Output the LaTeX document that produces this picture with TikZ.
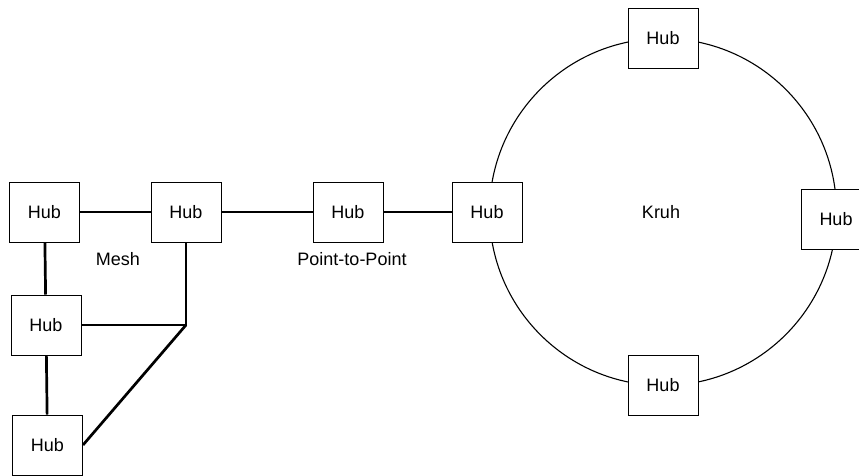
\documentclass[tikz,border=0pt]{standalone}
\usepackage{fontspec}
\setmainfont{Liberation Sans}
\begin{document}
\begin{tikzpicture}[x=1pt,y=-1pt,
  hub/.style={draw, line width=1pt, fill=white, minimum width=70pt, minimum height=60pt, inner sep=0pt},
  link/.style={line width=2.7pt},
  ring/.style={line width=1.1pt},
  lbl/.style={inner sep=0pt},
  every node/.append style={font=\fontsize{18}{21}\selectfont}]
  \useasboundingbox (0,0) rectangle (859,475);
  \clip (0,0) rectangle (859,475);
  % ring topology
  \coordinate (rc) at (663,212);
  \draw[ring] (rc) circle [radius=173.5];
  \node[hub] (r1) at (487,212) {Hub};
  \node[hub] (r2) at (663,38.5) {Hub};
  \node[hub] (r3) at (836,219) {Hub};
  \node[hub] (r4) at (663,385) {Hub};
  \node[lbl] (kruh) at (661,212) {Kruh};
  % mesh and point-to-point hubs
  \node[hub] (m1) at (44.5,212) {Hub};
  \node[hub] (m2) at (186,212) {Hub};
  \node[hub] (m3) at (46,325) {Hub};
  \node[hub] (m4) at (47.5,445) {Hub};
  \node[hub] (p1) at (348,212) {Hub};
  \coordinate (j) at (m2.south |- m3.east);
  \draw[link] (m1) -- (m2);
  \draw[link] (m2) -- (p1);
  \draw[link] (p1) -- (r1);
  \draw[link] (m1) -- (m3);
  \draw[link] (m3) -- (m4);
  \draw[link] (m2.south) -- (j) -- (m3.east);
  \draw[link] (j) -- (m4.east);
  \node[lbl] (mesh) at (118,259) {Mesh};
  \node[lbl] (p2p) at (352,259) {Point-to-Point};
\end{tikzpicture}
\end{document}
